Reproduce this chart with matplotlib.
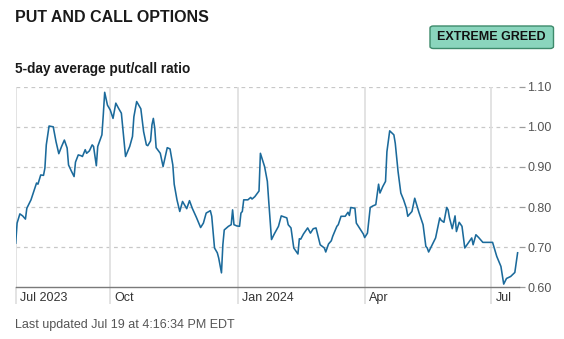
import numpy as np
import matplotlib
matplotlib.use("Agg")
import matplotlib.pyplot as plt
import matplotlib.transforms as mtransforms
from matplotlib.patches import FancyBboxPatch

plt.rcParams['font.family'] = ['Liberation Sans', 'DejaVu Sans']

# --- Data ---
start = np.datetime64('2023-07-25')
# days after start, 5-day average put/call ratio
days = [0, 1, 3, 5, 7, 8, 11, 13, 15, 16, 18, 20, 21, 22, 24, 27, 29, 31, 33, 35,
        37, 38, 40, 42, 43, 45, 47, 48, 50, 51, 53, 55, 56, 58, 59, 62, 63, 64, 66, 68,
        70, 72, 74, 76, 78, 79, 82, 84, 85, 87, 90, 92, 94, 95, 97, 98, 99, 100, 101, 104,
        106, 109, 111, 113, 114, 116, 118, 120, 123, 125, 127, 130, 133, 135, 137, 140, 141, 143, 145, 146,
        148, 149, 150, 153, 155, 156, 157, 159, 161, 162, 163, 164, 167, 169, 170, 172, 175, 176, 179, 181,
        182, 184, 186, 189, 191, 195, 196, 198, 200, 203, 204, 205, 207, 210, 212, 214, 216, 219, 222, 223,
        225, 227, 228, 231, 232, 234, 237, 239, 240, 241, 244, 245, 248, 250, 251, 253, 255, 257, 259, 261,
        262, 264, 266, 267, 269, 272, 273, 275, 277, 279, 281, 282, 285, 287, 289, 290, 293, 295, 296, 297,
        299, 302, 305, 306, 308, 310, 311, 312, 314, 316, 317, 319, 321, 323, 325, 328, 329, 331, 333, 336,
        339, 343, 346, 349, 351, 353, 356, 359, 361]
ratio = [0.710, 0.760, 0.783, 0.778, 0.770, 0.797, 0.818, 0.839, 0.860, 0.857,
         0.880, 0.879, 0.897, 0.955, 1.002, 1.000, 0.963, 0.933, 0.951, 0.967,
         0.947, 0.905, 0.890, 0.876, 0.912, 0.930, 0.928, 0.926, 0.943, 0.934,
         0.940, 0.955, 0.951, 0.903, 0.951, 0.980, 1.030, 1.086, 1.054, 1.042,
         1.021, 1.059, 1.046, 1.034, 0.963, 0.926, 0.951, 0.976, 1.025, 1.063,
         1.045, 0.988, 0.955, 0.953, 0.965, 1.005, 1.021, 0.997, 0.948, 0.934,
         0.901, 0.948, 0.945, 0.905, 0.857, 0.818, 0.789, 0.814, 0.796, 0.816,
         0.797, 0.774, 0.749, 0.760, 0.785, 0.791, 0.777, 0.698, 0.686, 0.673,
         0.636, 0.706, 0.743, 0.752, 0.756, 0.793, 0.756, 0.753, 0.752, 0.785,
         0.789, 0.818, 0.818, 0.824, 0.820, 0.826, 0.840, 0.934, 0.901, 0.864,
         0.814, 0.719, 0.733, 0.752, 0.778, 0.773, 0.756, 0.748, 0.698, 0.683,
         0.721, 0.720, 0.733, 0.748, 0.735, 0.746, 0.748, 0.706, 0.698, 0.688,
         0.708, 0.716, 0.727, 0.752, 0.756, 0.777, 0.777, 0.787, 0.779, 0.799,
         0.797, 0.760, 0.744, 0.733, 0.724, 0.735, 0.799, 0.803, 0.806, 0.857,
         0.835, 0.851, 0.864, 0.938, 0.990, 0.980, 0.959, 0.889, 0.835, 0.818,
         0.797, 0.777, 0.789, 0.822, 0.799, 0.787, 0.756, 0.702, 0.698, 0.688,
         0.702, 0.723, 0.773, 0.767, 0.762, 0.799, 0.793, 0.773, 0.746, 0.778,
         0.739, 0.762, 0.752, 0.698, 0.708, 0.723, 0.706, 0.731, 0.724, 0.712,
         0.712, 0.712, 0.677, 0.652, 0.608, 0.622, 0.627, 0.637, 0.686]

month_dates = ['2023-07-25', '2023-10-01', '2024-01-01', '2024-04-01', '2024-07-01']
month_labels = ['Jul 2023', 'Oct', 'Jan 2024', 'Apr', 'Jul']
y_ticks = [0.60, 0.70, 0.80, 0.90, 1.00, 1.10]

dates = start + np.array(days).astype('timedelta64[D]')
months = np.array(month_dates, dtype='datetime64[D]')

# --- Figure ---
fig = plt.figure(figsize=(5.64, 3.39), dpi=100)
ax = fig.add_axes([15.7 / 564, 1 - 287.3 / 339, (519 - 15.7) / 564, 200.6 / 339])

ax.set_xlim(start, start + np.timedelta64(362, 'D'))
ax.set_ylim(0.60, 1.10)

# grid
for y in y_ticks[1:]:
    ax.axhline(y, color='#c8c8c8', lw=0.9, ls=(0, (3, 3)), zorder=1)
for m in months:
    ax.axvline(m, color='#dedede', lw=1.2, zorder=1)

ax.plot(dates, ratio, color='#1b6a9b', lw=1.15, zorder=3)

for s in ['top', 'right', 'left']:
    ax.spines[s].set_visible(False)
ax.spines['bottom'].set_color('#7a7a7a')
ax.spines['bottom'].set_linewidth(1.0)

ax.yaxis.tick_right()
ax.set_yticks(y_ticks)
ax.set_yticklabels([f'{v:.2f}' for v in y_ticks])
ax.tick_params(axis='y', length=4, width=0.9, color='#9a9a9a', pad=2,
               labelsize=9, labelcolor='#555555')

ax.set_xticks(months)
ax.set_xticklabels([])
ax.tick_params(axis='x', length=12, width=1.2, color='#dedede')

trans = mtransforms.blended_transform_factory(ax.transData, ax.transAxes)
off = mtransforms.offset_copy(trans, fig=fig, x=3, y=0, units='points')
for m, lab in zip(months, month_labels):
    ax.text(m, -0.055, lab, transform=off, ha='left', va='center',
            fontsize=9, color='#333333')

# --- Texts ---
fig.text(15 / 564, 1 - 18 / 339, 'PUT AND CALL OPTIONS', fontsize=11.5, fontweight='bold',
         color='#1a1a1a', va='center', ha='left')
fig.text(15 / 564, 1 - 69 / 339, '5-day average put/call ratio', fontsize=9.8,
         fontweight='bold', color='#1a1a1a', va='center', ha='left')
fig.text(15 / 564, 1 - 325 / 339, 'Last updated Jul 19 at 4:16:34 PM EDT', fontsize=9,
         color='#555555', va='center', ha='left')

badge = FancyBboxPatch((430 / 564, 1 - 48.5 / 339), 123.5 / 564, 22.5 / 339,
                       boxstyle='round,pad=0,rounding_size=0.006',
                       transform=fig.transFigure, facecolor='#8ad5bd',
                       edgecolor='#3d8a6b', lw=1.0)
fig.patches.append(badge)
fig.text(491.5 / 564, 1 - 37.5 / 339, 'EXTREME GREED', fontsize=9, fontweight='bold',
         color='#111111', va='center', ha='center')

fig.savefig('out.png', dpi=100)
